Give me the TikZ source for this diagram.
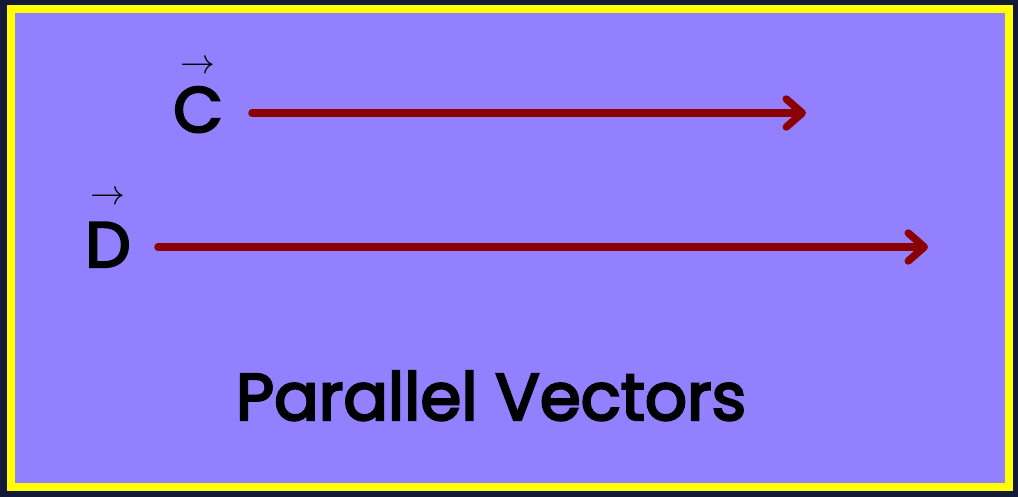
\documentclass[tikz,border=0pt]{standalone}
\usepackage{graphicx}
\usepackage{fontspec}
\setmainfont{Poppins}[FakeBold=3.5]
\usepackage{xcolor}
\usetikzlibrary{arrows.meta, positioning}

\definecolor{pagebg}{RGB}{18,26,56}
\definecolor{panel}{RGB}{147,128,255}
\definecolor{frameyel}{RGB}{255,255,0}
\definecolor{vecred}{RGB}{139,0,0}

\newcommand{\vecsign}{\scalebox{1.4}{$\rightarrow$}}

\begin{document}
\begin{tikzpicture}[
    x=1pt, y=-1pt,
    every node/.style={inner sep=0pt, outer sep=0pt},
    letter/.style={font=\fontsize{64}{64}\selectfont, text=black, anchor=base},
    vecmark/.style={font=\fontsize{24}{24}\selectfont, text=black},
    vecline/.style={draw=vecred, line width=7.5pt, line cap=round,
                    -{Straight Barb[length=16pt, width=28pt, line join=round, line cap=round]}},
    caption/.style={font=\fontsize{66}{66}\selectfont, text=black, anchor=base},
]

% --------- Background and frame ----------
\fill[pagebg] (0,0) rectangle (1018,497);
\filldraw[fill=panel, draw=frameyel, line width=8pt] (11,9) rectangle (1009,487);

% --------- Vector C ----------
\node[letter] (labC) at (198,132) {C};
\node[vecmark, above=13pt of labC] (arrC) {\vecsign};
\coordinate (startC) at (252,113);
\coordinate (endC)   at (806,113);
\draw[vecline] (startC) -- (endC);

% --------- Vector D ----------
\node[letter] (labD) at (108,267) {D};
\node[vecmark, above=18pt of labD] (arrD) {\vecsign};
\coordinate (startD) at (158,247);
\coordinate (endD)   at (928,247);
\draw[vecline] (startD) -- (endD);

% --------- Caption ----------
\node[caption] (title) at (491,420) {Parallel Vectors};

\end{tikzpicture}
\end{document}
